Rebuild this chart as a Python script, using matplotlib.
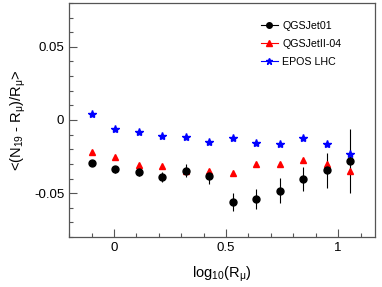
import matplotlib
matplotlib.use("Agg")
import matplotlib.pyplot as plt
from matplotlib.ticker import MultipleLocator, FixedLocator

plt.rcParams["font.family"] = ["Liberation Sans", "DejaVu Sans"]
plt.rcParams["mathtext.fontset"] = "custom"
plt.rcParams["mathtext.rm"] = "Liberation Sans"
plt.rcParams["mathtext.it"] = "Liberation Sans"
plt.rcParams["mathtext.default"] = "rm"

# --- data ---
log_r = [-0.10, 0.005, 0.11, 0.215, 0.32, 0.425, 0.53, 0.635, 0.74, 0.845, 0.95, 1.055]

qgsjet01 = [-0.0297, -0.0338, -0.0356, -0.0388, -0.0347, -0.0386,
            -0.0562, -0.0539, -0.0484, -0.0402, -0.0345, -0.0281]
qgsjet01_err = [0.002, 0.0025, 0.003, 0.0035, 0.0045, 0.005,
                0.006, 0.0068, 0.0086, 0.0083, 0.012, 0.022]

qgsjet2 = [-0.0217, -0.0256, -0.0308, -0.0313, -0.0350, -0.0350,
           -0.0360, -0.0304, -0.0300, -0.0274, -0.0300, -0.0352]

epos = [0.0039, -0.0060, -0.0080, -0.0107, -0.0114, -0.0149,
        -0.0121, -0.0160, -0.0164, -0.0121, -0.0162, -0.0233]

fig = plt.figure(figsize=(3.82, 2.87), dpi=100)
ax = fig.add_axes([0.181, 0.174, 0.801, 0.816])

ax.errorbar(log_r, qgsjet01, yerr=qgsjet01_err, fmt="o", color="black",
            ms=5, elinewidth=0.8, capsize=0, label="QGSJet01", zorder=3)
ax.plot(log_r, qgsjet2, "^", color="red", ms=4.8, label="QGSJetII-04", zorder=3)
ax.plot(log_r, epos, "*", color="blue", ms=6, label="EPOS LHC", zorder=3)

ax.set_xlim(-0.2, 1.165)
ax.set_ylim(-0.08, 0.08)
ax.xaxis.set_major_locator(FixedLocator([0, 0.5, 1]))
ax.xaxis.set_minor_locator(MultipleLocator(0.1))
ax.yaxis.set_major_locator(FixedLocator([-0.05, 0, 0.05]))
ax.yaxis.set_minor_locator(MultipleLocator(0.01))
ax.set_xticklabels(["0", "0.5", "1"])
ax.set_yticklabels(["-0.05", "0", "0.05"])

ax.tick_params(which="both", direction="in", colors="#555555", labelcolor="black",
               labelsize=9.5, width=0.8)
ax.tick_params(which="major", length=5.5)
ax.tick_params(which="minor", length=3)
for s in ax.spines.values():
    s.set_color("#555555")
    s.set_linewidth(0.9)

ax.set_xlabel("log$_{10}$(R$_{μ}$)", fontsize=10.5, labelpad=8)
ax.set_ylabel("<(N$_{19}$ - R$_{μ}$)/R$_{μ}$>", fontsize=10.5, labelpad=4)

handles = [
    plt.Line2D([], [], color="black", marker="o", ms=4, lw=0.8),
    plt.Line2D([], [], color="red", marker="^", ms=4, lw=0.8),
    plt.Line2D([], [], color="blue", marker="*", ms=5, lw=0.8),
]
ax.legend(handles, ["QGSJet01", "QGSJetII-04", "EPOS LHC"], loc="upper left",
          bbox_to_anchor=(0.595, 0.965), frameon=False, fontsize=7.7,
          handlelength=1.6, handletextpad=0.4, labelspacing=0.75)

fig.savefig("out.png", dpi=100)
